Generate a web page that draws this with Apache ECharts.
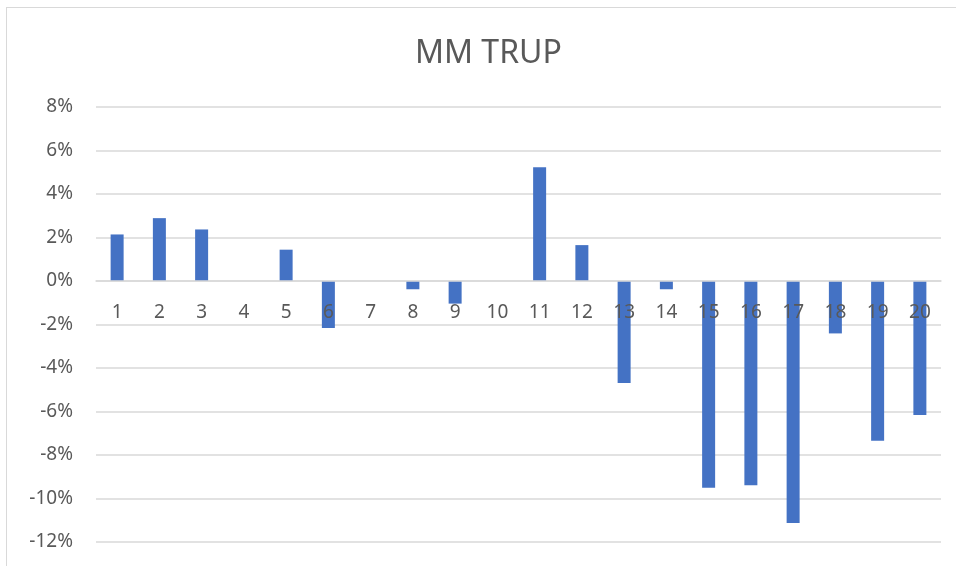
<!DOCTYPE html>
<html>
<head>
<meta charset="utf-8">
<script src="https://cdn.jsdelivr.net/npm/echarts@6/dist/echarts.min.js"></script>
<style>
  html, body { margin: 0; padding: 0; background: #fff; }
  #frame { position: absolute; left: 6px; top: 7px; width: 1000px; height: 600px; border: 1.5px solid #d9d9d9; }
  #chart { position: absolute; left: 0; top: 0; width: 956px; height: 566px; }
</style>
</head>
<body>
<div id="frame"></div>
<div id="chart"></div>
<script>
// categories 1..20
var categories = ['1', '2', '3', '4', '5', '6', '7', '8', '9', '10',
  '11', '12', '13', '14', '15', '16', '17', '18', '19', '20']
// returns in percent
var returns = [2.14, 2.89, 2.37, 0, 1.44, -2.16, 0, -0.38, -1.04, 0,
  5.23, 1.65, -4.69, -0.38, -9.5, -9.39, -11.13, -2.41, -7.34, -6.16]

var yMin = -12
var yMax = 8
var gridTop = 107
var gridBottom = 24
var plotHeight = 566 - gridTop - gridBottom
// shift the category axis up to the zero line, like Excel does
var zeroOffset = -plotHeight * (0 - yMin) / (yMax - yMin)

var myChart = echarts.init(document.getElementById('chart'))
var option = {
  animation: false,
  title: {
    text: 'MM TRUP',
    left: 410,
    top: 33,
    textStyle: {
      fontFamily: 'Noto Sans',
      fontSize: 32,
      fontWeight: 'normal',
      color: '#595959'
    }
  },
  grid: {
    left: 96,
    right: 15,
    top: gridTop,
    bottom: gridBottom,
    outerBoundsMode: 'none'
  },
  xAxis: {
    type: 'category',
    data: categories,
    z: 10,
    offset: zeroOffset,
    axisLine: { onZero: false, lineStyle: { color: '#d9d9d9', width: 1.5 } },
    axisTick: { show: false },
    axisLabel: {
      margin: 22,
      fontFamily: 'Noto Sans',
      fontSize: 19,
      color: '#595959'
    }
  },
  yAxis: {
    type: 'value',
    min: yMin,
    max: yMax,
    interval: 2,
    axisLine: { show: false },
    axisTick: { show: false },
    axisLabel: {
      formatter: '{value}%',
      margin: 23,
      fontFamily: 'Noto Sans',
      fontSize: 19,
      color: '#595959'
    },
    splitLine: { lineStyle: { color: '#d9d9d9', width: 1.5 } }
  },
  series: [
    {
      type: 'bar',
      data: returns,
      barWidth: 13,
      itemStyle: { color: '#4472C4' }
    }
  ]
}
myChart.setOption(option)
</script>
</body>
</html>
